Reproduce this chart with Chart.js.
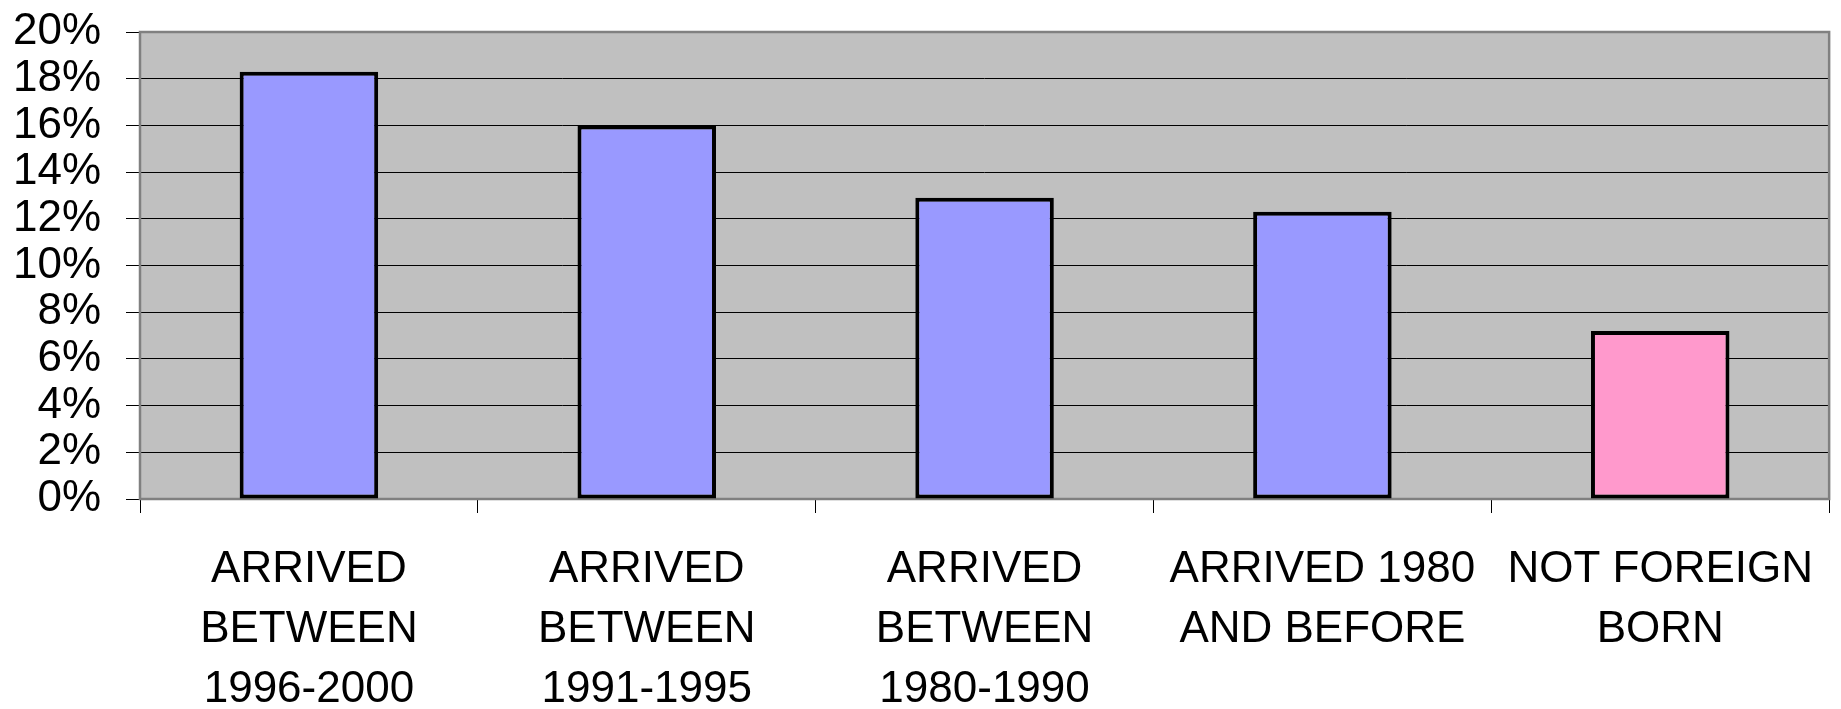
<!DOCTYPE html>
<html>
<head>
<meta charset="utf-8">
<title>Arrival period</title>
<script src="https://cdn.jsdelivr.net/npm/chart.js@4/dist/chart.umd.min.js"></script>
<style>
  html, body { margin: 0; padding: 0; background: #ffffff; }
  #wrap { width: 1841px; height: 709px; }
</style>
</head>
<body>
<div id="wrap"><canvas id="chart" width="1841" height="709"></canvas></div>
<script>
// Category labels (one entry per line of each label)
const categories = [
  ['ARRIVED', 'BETWEEN', '1996-2000'],
  ['ARRIVED', 'BETWEEN', '1991-1995'],
  ['ARRIVED', 'BETWEEN', '1980-1990'],
  ['ARRIVED 1980', 'AND BEFORE'],
  ['NOT FOREIGN', 'BORN']
];
// Share of each group, in percent
const shares = [18.3, 16.0, 12.9, 12.3, 7.2];
const barColors = ['#9999FF', '#9999FF', '#9999FF', '#9999FF', '#FF99CC'];
// Value axis ticks
const yTicks = [0, 2, 4, 6, 8, 10, 12, 14, 16, 18, 20];

const FONT = '"Liberation Sans", Arial, sans-serif';

// Grey plot area with a darker frame
const plotFrame = {
  id: 'plotFrame',
  beforeDraw(chart) {
    const { ctx, chartArea: a } = chart;
    ctx.save();
    ctx.fillStyle = '#C0C0C0';
    ctx.fillRect(a.left, a.top, a.right - a.left, a.bottom - a.top);
    ctx.restore();
  },
  beforeDatasetsDraw(chart) {
    const { ctx, chartArea: a } = chart;
    ctx.save();
    ctx.strokeStyle = '#808080';
    ctx.lineWidth = 2.5;
    ctx.strokeRect(a.left, a.top, a.right - a.left, a.bottom - a.top);
    ctx.restore();
  }
};

new Chart(document.getElementById('chart'), {
  type: 'bar',
  data: {
    labels: categories,
    datasets: [{
      data: shares,
      backgroundColor: barColors,
      borderColor: '#000000',
      borderWidth: 4,
      borderSkipped: false,
      categoryPercentage: 1.0,
      barPercentage: 0.41
    }]
  },
  options: {
    responsive: false,
    animation: false,
    devicePixelRatio: 1,
    layout: { padding: { left: 0, right: 10, top: 32, bottom: 0 } },
    plugins: {
      legend: { display: false },
      tooltip: { enabled: false }
    },
    scales: {
      x: {
        offset: true,
        border: { display: false },
        grid: {
          offset: true,
          drawOnChartArea: false,
          drawTicks: true,
          tickLength: 14,
          tickColor: '#000000',
          tickWidth: 1
        },
        ticks: {
          color: '#000000',
          font: { family: FONT, size: 44, lineHeight: 1.36 },
          padding: 27,
          maxRotation: 0,
          minRotation: 0,
          autoSkip: false
        },
        afterFit(scale) { scale.height = 210; }
      },
      y: {
        min: 0,
        max: 20,
        afterBuildTicks(scale) { scale.ticks = yTicks.map(v => ({ value: v })); },
        border: { display: false },
        grid: {
          color: '#000000',
          lineWidth: 1,
          tickLength: 14,
          tickColor: '#000000'
        },
        ticks: {
          color: '#000000',
          // single-line labels: a tight line height keeps the end labels from padding the plot
          font: { family: FONT, size: 44, lineHeight: 0.1 },
          padding: 25,
          autoSkip: false,
          callback: v => v + '%'
        },
        afterFit(scale) { scale.width = 140; }
      }
    }
  },
  plugins: [plotFrame]
});
</script>
</body>
</html>
